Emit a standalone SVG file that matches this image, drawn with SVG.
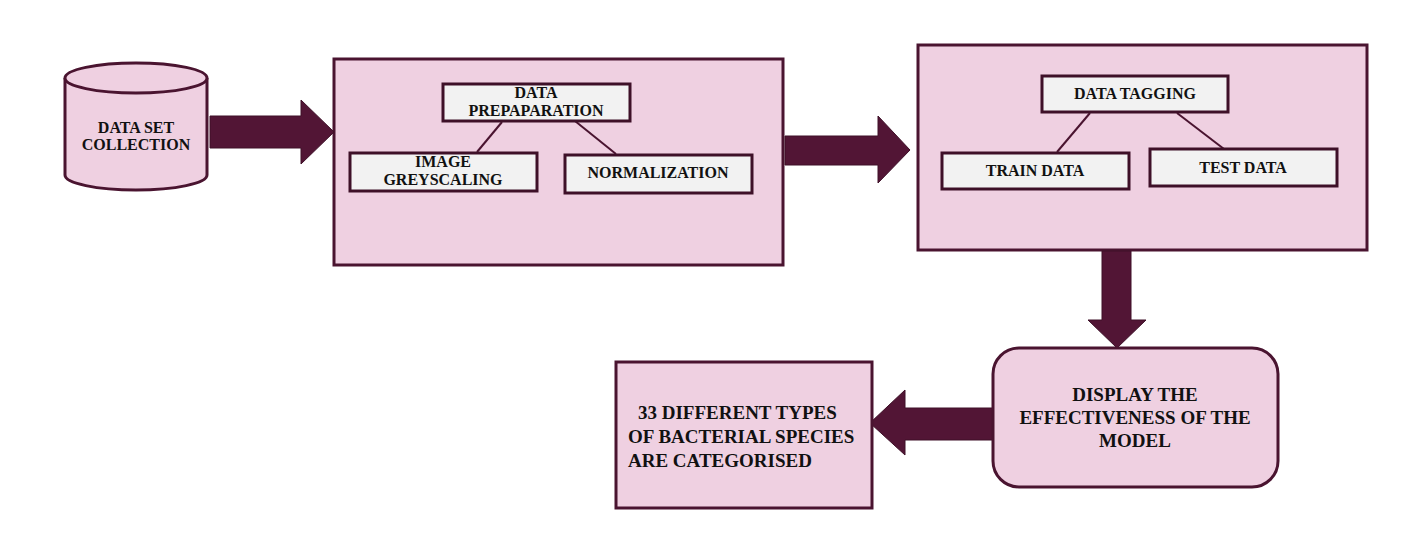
<svg xmlns="http://www.w3.org/2000/svg" width="1410" height="533" viewBox="0 0 1410 533">
<style>
.main{fill:#efd0e1;stroke:#4a1430;stroke-width:3}
.sub{fill:#f2f2f2;stroke:#3e1028;stroke-width:3}
.arr{fill:#521535;stroke:#3e1028;stroke-width:1}
.ln{stroke:#4a1430;stroke-width:2;fill:none}
text{font-family:"Liberation Serif","Times New Roman",serif;font-weight:bold;fill:#111}
.s{font-size:16px}
.l{font-size:19px}
</style>
<rect width="1410" height="533" fill="#ffffff"/>
<g id="dataset">
<path class="main" d="M65,78 L65,175 A71,15 0 0 0 207,175 L207,78"/>
<ellipse class="main" cx="136" cy="78" rx="71" ry="15"/>
<text class="s" x="136" y="133" text-anchor="middle">DATA SET</text>
<text class="s" x="136" y="150" text-anchor="middle">COLLECTION</text>
</g>
<g id="preparation">
<rect class="main" x="334" y="59" width="449" height="206"/>
</g>
<g id="tagging-box">
<rect class="main" x="918" y="45" width="449" height="205"/>
</g>
<g id="connectors">
<polygon class="arr" points="210,116 301,116 301,100 334,132 301,164 301,148 210,148"/>
<polygon class="arr" points="785,136 878,136 878,116 910,150 878,183 878,165 785,165"/>
<polygon class="arr" points="1102,251 1131,251 1131,320 1146,320 1117,348 1088,320 1102,320"/>
<polygon class="arr" points="993,408 905,408 905,390 870,423 905,455 905,440 993,440"/>
<line class="ln" x1="502" y1="122" x2="477" y2="152"/>
<line class="ln" x1="575" y1="121" x2="616" y2="154"/>
<line class="ln" x1="1090" y1="113" x2="1057" y2="152"/>
<line class="ln" x1="1177" y1="113" x2="1224" y2="149"/>
</g>
<g id="data-prep">
<rect class="sub" x="443" y="84" width="187" height="37"/>
<text class="s" x="536" y="98" text-anchor="middle">DATA</text>
<text class="s" x="536" y="116" text-anchor="middle">PREPAPARATION</text>
</g>
<g id="greyscaling">
<rect class="sub" x="350" y="153" width="187" height="38"/>
<text class="s" x="443" y="167" text-anchor="middle">IMAGE</text>
<text class="s" x="443" y="185" text-anchor="middle">GREYSCALING</text>
</g>
<g id="normalization">
<rect class="sub" x="565" y="155" width="187" height="38"/>
<text class="s" x="658" y="178" text-anchor="middle">NORMALIZATION</text>
</g>
<g id="data-tagging">
<rect class="sub" x="1042" y="76" width="186" height="36"/>
<text class="s" x="1135" y="99" text-anchor="middle">DATA TAGGING</text>
</g>
<g id="train-data">
<rect class="sub" x="942" y="153" width="187" height="36"/>
<text class="s" x="1035" y="176" text-anchor="middle">TRAIN DATA</text>
</g>
<g id="test-data">
<rect class="sub" x="1150" y="149" width="187" height="37"/>
<text class="s" x="1243" y="173" text-anchor="middle">TEST DATA</text>
</g>
<g id="display">
<rect class="main" x="993" y="348" width="285" height="139" rx="26" ry="26"/>
<text class="l" x="1135" y="401" text-anchor="middle">DISPLAY THE</text>
<text class="l" x="1135" y="424" text-anchor="middle">EFFECTIVENESS OF THE</text>
<text class="l" x="1135" y="447" text-anchor="middle">MODEL</text>
</g>
<g id="result">
<rect class="main" x="616" y="362" width="256" height="146"/>
<text class="l" x="638" y="419">33 DIFFERENT TYPES</text>
<text class="l" x="628" y="443">OF BACTERIAL SPECIES</text>
<text class="l" x="628" y="467">ARE CATEGORISED</text>
</g>
</svg>
